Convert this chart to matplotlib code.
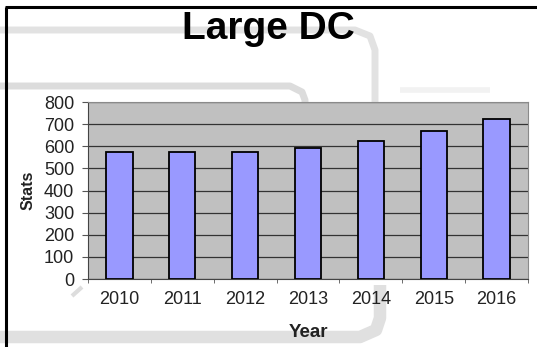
import matplotlib.pyplot as plt
from matplotlib.lines import Line2D
import numpy as np

plt.rcParams['font.family'] = ['Liberation Sans', 'DejaVu Sans']

# data
years = ['2010', '2011', '2012', '2013', '2014', '2015', '2016']
stats = [572, 572, 576, 590, 624, 668, 722]
yticks = [0, 100, 200, 300, 400, 500, 600, 700, 800]

W, H = 537, 347
fig = plt.figure(figsize=(W / 100, H / 100), dpi=100)
fig.patch.set_facecolor('white')


def px(x, y):
    # pixel (from top-left) -> figure fraction
    return x / W, 1 - y / H


# faded slide decoration in the background
def band(xs, ys, lw, c):
    fx = [x / W for x in xs]
    fy = [1 - y / H for y in ys]
    fig.add_artist(Line2D(fx, fy, lw=lw, color=c, transform=fig.transFigure,
                          solid_capstyle='butt', solid_joinstyle='round', zorder=0))


band([0, 355, 370, 375, 375], [30, 30, 36, 50, 110], 5, '#e2e2e2')
band([0, 290, 302, 305, 305], [86, 86, 92, 100, 110], 5, '#dcdcdc')
band([400, 490], [90, 90], 4, '#f2f2f2')
band([0, 360, 376, 380, 380], [337, 337, 330, 318, 285], 9, '#e0e0e0')
band([72, 82], [296, 287], 3, '#dddddd')

# black slide frame (left and top)
band([6, 6], [H, 7], 2.2, 'black')
band([5, W], [7, 7], 2.2, 'black')

ax = fig.add_axes([88 / W, 1 - 279 / H, (528 - 88) / W, (279 - 102) / H])
ax.set_facecolor('#c0c0c0')

x = np.arange(len(years))
ax.bar(x, stats, width=0.42, color='#9999ff', edgecolor='black', linewidth=1.3, zorder=3)

ax.set_xlim(-0.5, len(years) - 0.5)
ax.set_ylim(0, 800)
ax.set_yticks(yticks)
ax.yaxis.grid(True, color='#333333', linewidth=0.9, zorder=1)
ax.set_axisbelow(True)

ax.set_xticks(x)
ax.set_xticklabels(years)
ax.set_xticks(np.arange(-0.5, len(years)), minor=True)
ax.tick_params(axis='x', which='major', length=0, pad=9, labelsize=13, labelcolor='#222222')
ax.tick_params(axis='x', which='minor', length=3, color='#555555', direction='out')
ax.tick_params(axis='y', length=4, pad=6, labelsize=13, color='#555555', labelcolor='#222222')

for side in ['top', 'right']:
    ax.spines[side].set_color('#8a8a8a')
for side in ['left', 'bottom']:
    ax.spines[side].set_color('#444444')

ax.set_xlabel('Year', fontsize=13.5, fontweight='bold', labelpad=11, color='#222222')
ax.set_ylabel('Stats', fontsize=11.5, fontweight='bold', labelpad=6, color='#222222')

fx, fy = px(268, 39)
fig.text(fx, fy, 'Large DC', fontsize=28, fontweight='bold', ha='center', va='baseline')

fig.savefig('out.png', dpi=100)
